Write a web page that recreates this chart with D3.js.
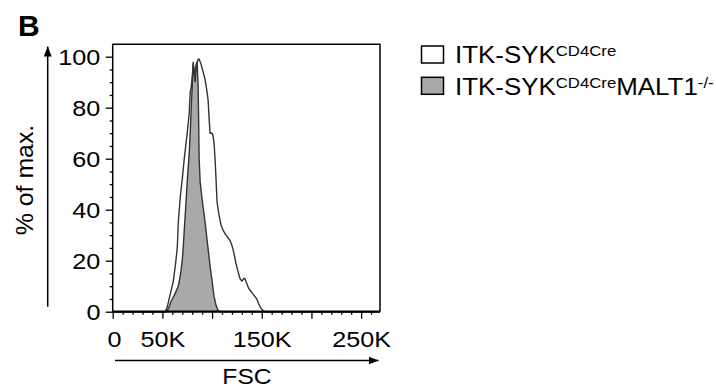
<!DOCTYPE html>
<html>
<head>
<meta charset="utf-8">
<script src="https://cdn.jsdelivr.net/npm/d3@7"></script>
<style>
  html, body { margin: 0; padding: 0; background: #fff; }
  svg { display: block; font-family: "Liberation Sans", Arial, sans-serif; }
  .axis path { display: none; }
  .axis line { stroke: #000; stroke-width: 1.3; }
</style>
</head>
<body>
<svg id="chart" width="716" height="392"></svg>
<script>
// FSC (in K) vs % of max
const openCurve = [
  [0, 0], [50, 0], [53, 0], [55, 2], [58, 7], [61, 12], [63, 18], [65, 25], [66, 35],
  [68, 45], [70, 52], [72, 60], [75, 70], [77, 78], [78, 86], [79, 88], [80, 92],
  [81, 97], [82, 95], [83, 93], [84, 96], [86, 99], [87, 99], [89, 97], [91, 94],
  [93, 91], [95, 86], [96, 83], [97, 76], [98, 70], [100, 70], [101, 69], [102, 66],
  [103, 60], [104, 52], [105, 43], [107, 38], [109, 34], [111, 32], [114, 30],
  [116, 29], [118, 28], [120, 26], [122, 23], [124, 19], [126, 16], [128, 13],
  [130, 12], [132, 13], [133, 13], [135, 11], [137, 9], [139, 8], [141, 7], [143, 6],
  [145, 5], [147, 3], [149, 1.5], [151, 0.5], [153, 0], [269, 0]
];
const malt1Curve = [
  [0, 0], [53, 0], [55, 0.5], [57, 2], [58, 3.4], [60, 5], [63, 7.3], [66, 10],
  [68, 14], [70, 20], [71, 25.5], [73, 38], [75, 51], [77, 62], [78, 70], [79, 80],
  [80, 88], [81, 98], [82, 93], [83, 90], [84, 97], [85, 98], [86, 88], [86.5, 75],
  [87, 60], [88, 51], [90, 44], [93, 35], [95, 28], [98, 18], [100, 12], [102, 6],
  [104, 2.5], [106, 0.5], [108, 0], [269, 0]
];
const xMajorTicks = [0, 50, 100, 150, 200, 250];
const xLabelled = [0, 50, 150, 250];
const yMajorTicks = [0, 20, 40, 60, 80, 100];
const legendItems = [
  { name: 'ITK-SYK', sup: 'CD4Cre', tail: '', tailSup: '', fill: '#fff' },
  { name: 'ITK-SYK', sup: 'CD4Cre', tail: 'MALT1', tailSup: '-/-', fill: '#a9a9a9' }
];

const svg = d3.select('#chart');
const SX = 1.12; // text in the figure is a bit wider than Arial

const plot = { left: 112.7, right: 380, top: 44.3, bottom: 311.7 };

const x = d3.scaleLinear().domain([0, 269]).range([plot.left, plot.right]);
const y = d3.scaleLinear().domain([0, 100]).range([plot.bottom, 56.7]);

function stretchedText(px, py, str, size, anchor, weight) {
  return svg.append('text')
    .attr('transform', `translate(${px},${py}) scale(${SX},1)`)
    .attr('font-size', size)
    .attr('font-weight', weight || 'normal')
    .attr('text-anchor', anchor || 'start')
    .text(str);
}

// panel letter
svg.append('text')
  .attr('x', 18).attr('y', 36)
  .attr('font-size', 30).attr('font-weight', 'bold')
  .text('B');

// histograms
const area = d3.area()
  .x(d => x(d[0] * 1000 / 1000))
  .y0(y(0))
  .y1(d => y(d[1]));
const line = d3.line()
  .x(d => x(d[0]))
  .y(d => y(d[1]));

svg.append('path').datum(openCurve)
  .attr('d', area).attr('fill', '#fff');
svg.append('path').datum(malt1Curve)
  .attr('d', area).attr('fill', '#a9a9a9');
svg.append('path').datum(malt1Curve)
  .attr('d', line).attr('fill', 'none')
  .attr('stroke', '#333').attr('stroke-width', 1.4);
svg.append('path').datum(openCurve)
  .attr('d', line).attr('fill', 'none')
  .attr('stroke', '#333').attr('stroke-width', 1.4);

// frame
svg.append('path')
  .attr('d', `M${plot.left},${plot.bottom}V${plot.top}H${plot.right}V${plot.bottom}`)
  .attr('fill', 'none').attr('stroke', '#000').attr('stroke-width', 1.5);
svg.append('line')
  .attr('x1', plot.left).attr('x2', plot.right)
  .attr('y1', plot.bottom).attr('y2', plot.bottom)
  .attr('stroke', '#000').attr('stroke-width', 2.2);

// X axis
const xMinor = d3.range(0, 269, 10).filter(v => v % 50 !== 0);
svg.append('g').attr('class', 'axis')
  .attr('transform', `translate(0,${plot.bottom})`)
  .call(d3.axisBottom(x).tickValues(xMinor).tickSize(3).tickFormat(''));
const gx = svg.append('g').attr('class', 'axis')
  .attr('transform', `translate(0,${plot.bottom})`)
  .call(d3.axisBottom(x).tickValues(xMajorTicks).tickSize(7).tickPadding(12)
    .tickFormat(d => xLabelled.includes(d) ? (d === 0 ? '0' : d + 'K') : ''));
gx.selectAll('text')
  .attr('font-size', 22.5).attr('fill', '#000')
  .attr('font-family', '"Liberation Sans", Arial, sans-serif')
  .attr('transform', `scale(${SX},1)`)
  .attr('x', d => d === 0 ? 1.2 : 0);

// Y axis
const yMinor = d3.range(0, 101, 5).filter(v => v % 20 !== 0);
svg.append('g').attr('class', 'axis')
  .attr('transform', `translate(${plot.left},0)`)
  .call(d3.axisLeft(y).tickValues(yMinor).tickSize(3).tickFormat(''));
const gy = svg.append('g').attr('class', 'axis')
  .attr('transform', `translate(${plot.left},0)`)
  .call(d3.axisLeft(y).tickValues(yMajorTicks).tickSize(7).tickPadding(4));
gy.selectAll('text')
  .attr('font-size', 22.5).attr('fill', '#000')
  .attr('font-family', '"Liberation Sans", Arial, sans-serif')
  .attr('transform', `scale(${SX},1)`)
  .attr('dy', '0.36em');

// axis arrows
svg.append('defs').append('marker')
  .attr('id', 'arrow').attr('viewBox', '0 0 10 8')
  .attr('refX', 10).attr('refY', 4)
  .attr('markerUnits', 'userSpaceOnUse')
  .attr('markerWidth', 10).attr('markerHeight', 8)
  .attr('orient', 'auto')
  .append('path').attr('d', 'M0,0L10,4L0,8Z').attr('fill', '#000');

svg.append('line')
  .attr('x1', 47.7).attr('x2', 47.7).attr('y1', 306.7).attr('y2', 46.5)
  .attr('stroke', '#000').attr('stroke-width', 1.5)
  .attr('marker-end', 'url(#arrow)');
svg.append('line')
  .attr('x1', 115).attr('x2', 378.5).attr('y1', 360.5).attr('y2', 360.5)
  .attr('stroke', '#000').attr('stroke-width', 1.5)
  .attr('marker-end', 'url(#arrow)');

// axis titles
svg.append('text')
  .attr('transform', `translate(33,180) rotate(-90) scale(1.08,1)`)
  .attr('font-size', 23).attr('text-anchor', 'middle')
  .text('% of max.');
stretchedText(247, 384, 'FSC', 22, 'middle');

// legend
legendItems.forEach((item, i) => {
  const top = 46 + i * 31.3;
  svg.append('rect')
    .attr('x', 421.5).attr('y', top)
    .attr('width', 22).attr('height', 17)
    .attr('fill', item.fill).attr('stroke', '#000').attr('stroke-width', 1.5);
  const t = svg.append('text')
    .attr('transform', `translate(455,${top + 17.3}) scale(1.08,1)`)
    .attr('font-size', 24);
  t.append('tspan').text(item.name);
  t.append('tspan').attr('font-size', 15.5).attr('dy', -7).text(item.sup);
  if (item.tail) {
    t.append('tspan').attr('dy', 7).text(item.tail);
    t.append('tspan').attr('font-size', 15.5).attr('dy', -7).text(item.tailSup);
  }
});
</script>
</body>
</html>
